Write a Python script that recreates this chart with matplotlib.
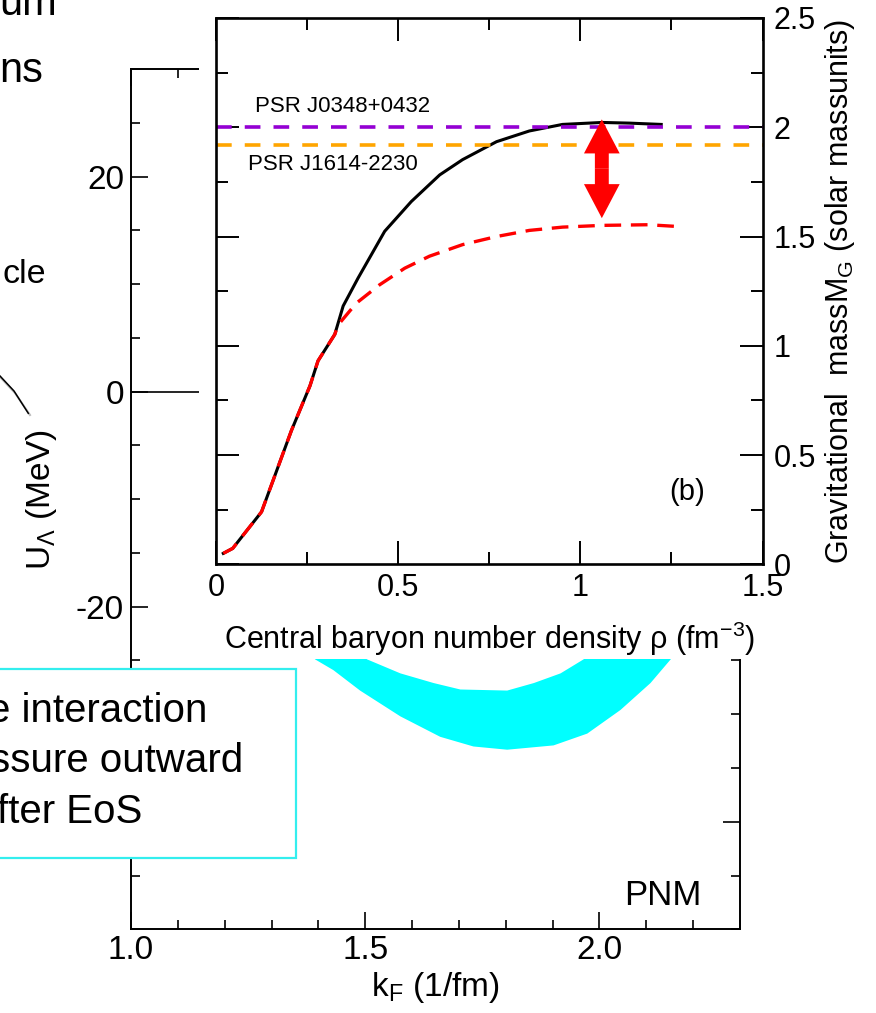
import numpy as np
import matplotlib
matplotlib.use("Agg")
import matplotlib.pyplot as plt
from matplotlib.patches import Rectangle, FancyArrowPatch, ArrowStyle
from matplotlib.lines import Line2D
from matplotlib.ticker import MultipleLocator, FormatStrFormatter

plt.rcParams['font.family'] = ['Liberation Sans', 'DejaVu Sans']
plt.rcParams['mathtext.fontset'] = 'custom'
plt.rcParams['mathtext.rm'] = 'Liberation Sans'
plt.rcParams['mathtext.it'] = 'Liberation Sans:italic'
plt.rcParams['mathtext.default'] = 'regular'
plt.rcParams['axes.unicode_minus'] = False
plt.rcParams['lines.scale_dashes'] = False

# ---- Lambda potential band in pure neutron matter (U vs kF) ----
kf_upper = [1.45, 1.504, 1.575, 1.646, 1.703, 1.803, 1.860, 1.917, 1.966, 2.02]
U_upper = [-23.0, -24.9, -26.2, -27.1, -27.7, -27.8, -27.1, -26.2, -24.9, -22.5]
kf_lower = [1.34, 1.393, 1.432, 1.489, 1.575, 1.660, 1.731, 1.803, 1.902, 1.974,
            2.045, 2.109, 2.152, 2.20]
U_lower = [-22.5, -24.9, -25.9, -27.8, -30.2, -32.1, -33.0, -33.3, -32.9, -31.8,
           -29.6, -27.1, -24.9, -22.0]

# ---- inset: neutron star mass vs central density ----
rho_np = [0.02, 0.046, 0.125, 0.207, 0.258, 0.28, 0.326, 0.349, 0.39, 0.463, 0.536,
          0.614, 0.677, 0.77, 0.86, 0.951, 1.06, 1.134, 1.222]
M_np = [0.05, 0.073, 0.24, 0.612, 0.817, 0.931, 1.052, 1.182, 1.31, 1.524, 1.66,
        1.782, 1.852, 1.934, 1.983, 2.013, 2.022, 2.019, 2.013]
rho_hyp = [0.02, 0.046, 0.125, 0.207, 0.258, 0.28, 0.326, 0.335, 0.367, 0.386, 0.449,
           0.518, 0.586, 0.677, 0.77, 0.86, 0.951, 1.06, 1.189, 1.216, 1.266]
M_hyp = [0.05, 0.073, 0.24, 0.612, 0.817, 0.931, 1.052, 1.095, 1.159, 1.196, 1.279,
         1.355, 1.41, 1.463, 1.50, 1.528, 1.543, 1.551, 1.554, 1.551, 1.546]

pulsar_names = ["PSR J0348+0432", "PSR J1614-2230"]
pulsar_mass = [2.0, 1.92]
pulsar_colors = ["#9400d3", "#ffa500"]

# mass drop marked by the double arrow
arrow_rho = 1.059
arrow_top = 2.036
arrow_bottom = 1.584

W, H = 876, 1013


def fx(px):
    return px / W


def fy(py):
    return 1 - py / H


fig = plt.figure(figsize=(W / 100, H / 100), dpi=100)

# ===============================
# main panel
# ===============================
ax = fig.add_axes([fx(131), fy(929.3), (740 - 131) / W, (929.3 - 69) / H])
ax.set_xlim(1.0, 2.3)
ax.set_ylim(-50, 30)

band_k = np.concatenate([kf_lower, kf_upper[::-1]])
band_U = np.concatenate([U_lower, U_upper[::-1]])
ax.fill(band_k, band_U, color='#00ffff', lw=0)
ax.axhline(0, color='black', lw=1.2)

ax.xaxis.set_major_locator(MultipleLocator(0.5))
ax.xaxis.set_minor_locator(MultipleLocator(0.1))
ax.xaxis.set_major_formatter(FormatStrFormatter('%.1f'))
ax.yaxis.set_major_locator(MultipleLocator(20))
ax.yaxis.set_minor_locator(MultipleLocator(5))
ax.tick_params(which='both', direction='in', top=True, right=True,
               labelsize=24, width=1.2)
ax.tick_params(which='major', length=12.5)
ax.tick_params(which='minor', length=6.5)
ax.tick_params(axis='x', pad=4)
ax.tick_params(axis='y', pad=5)
for s in ax.spines.values():
    s.set_linewidth(1.4)

ax.set_xlabel('k$_F$ (1/fm)', fontsize=24)
ax.xaxis.set_label_coords(0.5, -0.047)
ax.set_ylabel(r'U$_\Lambda$ (MeV)', fontsize=24)
ax.yaxis.set_label_coords(-0.118, 0.5)
ax.text(0.937, 0.028, 'PNM', transform=ax.transAxes, ha='right',
        va='baseline', fontsize=25)

# white area behind the inset panel
fig.add_artist(Rectangle((fx(199), fy(659)), 1.0, 1.0, transform=fig.transFigure,
                         facecolor='white', edgecolor='none', zorder=1))

# ===============================
# inset panel (b)
# ===============================
axin = fig.add_axes([fx(216), fy(564.3), (762.5 - 216) / W, (564.3 - 18) / H])
axin.set_zorder(2)
axin.set_xlim(0, 1.5)
axin.set_ylim(0, 2.5)

axin.plot(rho_np, M_np, color='black', lw=2.2)
axin.plot(rho_hyp, M_hyp, color='red', lw=2.4, dashes=(12, 7))
for m, c in zip(pulsar_mass, pulsar_colors):
    axin.axhline(m, color=c, lw=2.6, dashes=(11.3, 9.4))
axin.text(0.107, 2.093, pulsar_names[0], fontsize=16, ha='left', va='center')
axin.text(0.088, 1.829, pulsar_names[1], fontsize=16, ha='left', va='center')

mid = 0.5 * (arrow_top + arrow_bottom)
head = ArrowStyle.Simple(head_length=24.5, head_width=25.7, tail_width=10)
for tip in (arrow_top, arrow_bottom):
    axin.add_patch(FancyArrowPatch((arrow_rho, mid), (arrow_rho, tip),
                                   arrowstyle=head, mutation_scale=1,
                                   shrinkA=0, shrinkB=0, color='red', lw=0,
                                   zorder=5))

axin.text(1.293, 0.331, '(b)', fontsize=21, ha='center', va='center')

axin.xaxis.set_major_locator(MultipleLocator(0.5))
axin.xaxis.set_minor_locator(MultipleLocator(0.25))
axin.yaxis.set_major_locator(MultipleLocator(0.5))
axin.yaxis.set_minor_locator(MultipleLocator(0.25))
axin.xaxis.set_major_formatter(FormatStrFormatter('%g'))
axin.yaxis.set_major_formatter(FormatStrFormatter('%g'))
axin.tick_params(which='both', direction='in', top=True, right=True,
                 left=True, labelleft=False, labelright=True,
                 labelsize=22, width=1.4)
axin.tick_params(which='major', length=16.5)
axin.tick_params(which='minor', length=8.6)
axin.tick_params(axis='x', pad=6)
axin.tick_params(axis='y', pad=8)
for s in axin.spines.values():
    s.set_linewidth(1.9)

axin.set_xlabel(r'Central baryon number density ρ (fm$^{-3}$)', fontsize=22)
axin.xaxis.set_label_coords(0.5, -0.102)
axin.yaxis.set_label_position('right')
axin.set_ylabel('Gravitational  massM$_G$ (solar massunits)', fontsize=22)
axin.yaxis.set_label_coords(1.111, 0.5)

# ===============================
# text box and slide fragments on the left
# ===============================
fig.add_artist(Rectangle((fx(-6), fy(858)), fx(296) - fx(-6), fy(669) - fy(858),
                         transform=fig.transFigure, facecolor='white',
                         edgecolor='#33eeee', lw=1.6, zorder=3))
box_lines = [("e interaction", -12, 721.7), ("ssure outward", -9.5, 771.7),
             ("fter EoS", -3, 822.7)]
for txt, px, py in box_lines:
    fig.text(fx(px), fy(py), txt, fontsize=29, ha='left', va='baseline', zorder=4)

fig.text(fx(57), fy(15), 'um', fontsize=30, ha='right', va='baseline')
fig.text(fx(43), fy(81.7), 'ns', fontsize=30, ha='right', va='baseline')
fig.text(fx(46), fy(283.3), 'cle', fontsize=24.5, ha='right', va='baseline')

fig.add_artist(Line2D([fx(1), fx(15), fx(30)], [fy(378), fy(393), fy(415)],
                      transform=fig.transFigure, color='#bbbbbb', lw=1.5))
fig.add_artist(Line2D([fx(0), fx(14), fx(28.3)], [fy(376), fy(391), fy(413.3)],
                      transform=fig.transFigure, color='black', lw=1.1))

fig.savefig('out.png', dpi=100)
